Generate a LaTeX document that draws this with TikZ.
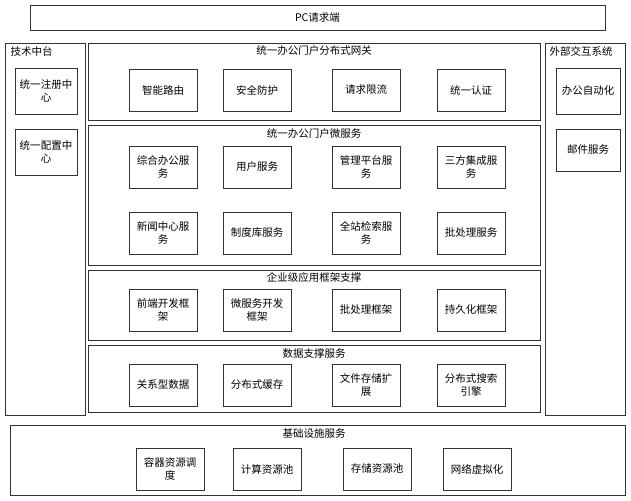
\documentclass[tikz,border=0pt]{standalone}
\usepackage{fontspec}
\setmainfont{Noto Sans CJK SC}
\begin{document}
\begin{tikzpicture}[x=1pt,y=-1pt,
  frame/.style={draw=black!80,line width=0.6pt},
  item/.style={draw=black!80,line width=0.6pt,minimum width=68pt,minimum height=42pt,align=center,font=\fontsize{10.5}{13}\selectfont,inner sep=1pt},
  ttl/.style={font=\fontsize{10.5}{13}\selectfont}]
\useasboundingbox (0,0) rectangle (631,500);
% PC
\node[frame,minimum width=575pt,minimum height=25pt,ttl] (pc) at (317.5,17.5) {PC请求端};
% left
\draw[frame] (5,43) rectangle (85,415);
\node[ttl,anchor=west] (jszt) at (7,51) {技术中台};
\node[item,minimum width=62pt,minimum height=46pt] (zc) at (46,91) {统一注册中\\心};
\node[item,minimum width=62pt,minimum height=46pt] (pz) at (46,152) {统一配置中\\心};
% right
\draw[frame] (545,43) rectangle (625,415);
\node[ttl,anchor=west] (wb) at (546,51) {外部交互系统};
\node[item,minimum width=64pt,minimum height=46pt] (oa) at (588,91) {办公自动化};
\node[item,minimum width=64pt,minimum height=42pt] (mail) at (588,150) {邮件服务};
% gateway
\draw[frame] (88,43) rectangle (540,120);
\node[ttl] (gw) at (314,51) {统一办公门户分布式网关};
\node[item] (g1) at (163,90) {智能路由};
\node[item] (g2) at (257,90) {安全防护};
\node[item] (g3) at (366,90) {请求限流};
\node[item] (g4) at (471,90) {统一认证};
% micro
\draw[frame] (88,125) rectangle (540,265);
\node[ttl] (ms) at (314,134) {统一办公门户微服务};
\node[item] (m1) at (163,167) {综合办公服\\务};
\node[item] (m2) at (257,167) {用户服务};
\node[item] (m3) at (366,167) {管理平台服\\务};
\node[item] (m4) at (471,167) {三方集成服\\务};
\node[item] (m5) at (163,233) {新闻中心服\\务};
\node[item] (m6) at (257,233) {制度库服务};
\node[item] (m7) at (366,233) {全站检索服\\务};
\node[item] (m8) at (471,233) {批处理服务};
% framework
\draw[frame] (88,270) rectangle (540,340);
\node[ttl] (fw) at (314,277) {企业级应用框架支撑};
\node[item] (f1) at (163,310) {前端开发框\\架};
\node[item] (f2) at (257,310) {微服务开发\\框架};
\node[item] (f3) at (366,310) {批处理框架};
\node[item] (f4) at (471,310) {持久化框架};
% data
\draw[frame] (88,345) rectangle (540,412);
\node[ttl] (ds) at (314,354) {数据支撑服务};
\node[item] (d1) at (163,385) {关系型数据};
\node[item] (d2) at (257,385) {分布式缓存};
\node[item] (d3) at (366,385) {文件存储扩\\展};
\node[item] (d4) at (471,385) {分布式搜索\\引擎};
% infra
\draw[frame] (10,425) rectangle (625,495);
\node[ttl] (inf) at (314,434) {基础设施服务};
\node[item] (i1) at (170,469) {容器资源调\\度};
\node[item] (i2) at (267,469) {计算资源池};
\node[item] (i3) at (377,469) {存储资源池};
\node[item] (i4) at (477,469) {网络虚拟化};
\end{tikzpicture}
\end{document}
